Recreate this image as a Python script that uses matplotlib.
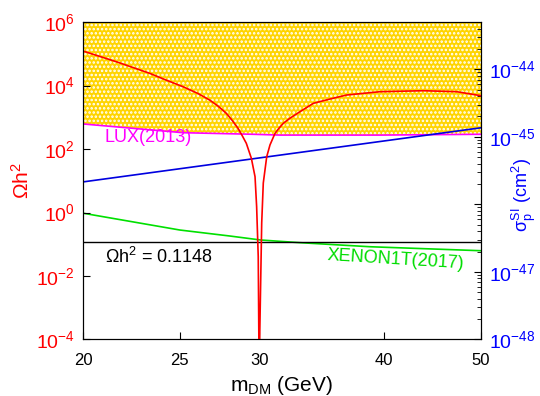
import matplotlib
matplotlib.use("Agg")
import matplotlib.pyplot as plt
from matplotlib.ticker import FixedLocator, FuncFormatter, LogLocator, NullLocator
import numpy as np

plt.rcParams['font.family'] = ['Liberation Sans', 'DejaVu Sans']
plt.rcParams['mathtext.fontset'] = 'custom'
plt.rcParams['mathtext.rm'] = 'Liberation Sans'
plt.rcParams['mathtext.it'] = 'Liberation Sans'
plt.rcParams['mathtext.bf'] = 'Liberation Sans'
plt.rcParams['hatch.linewidth'] = 1.2

# relic density vs DM mass (left axis)
m_dm = [20.0, 21.59, 23.32, 24.21, 25.18, 26.06, 26.77, 27.29, 27.82, 28.18,
        28.58, 28.87, 29.13, 29.47, 29.72, 29.83, 29.94, 30.0, 30.18, 30.29,
        30.53, 30.76, 31.12, 31.40, 31.72, 32.20, 32.96, 33.99, 35.32, 36.70,
        39.63, 43.78, 47.28, 50.0]
omega_h2 = [1.22e5, 5.62e4, 2.42e4, 1.49e4, 9.16e3, 5.60e3, 3.49e3, 2.26e3, 1.33e3, 818,
            449, 256, 151, 50.9, 13.4, 1.52, 0.0406, 1e-5, 0.467, 8.49,
            57.1, 134, 312, 449, 646, 927, 1496, 2748, 3758, 5023,
            6383, 6855, 6383, 4775]
omega_planck = 0.1148

# SI cross sections (right axis)
m_theory = [20.0, 50.0]
sigma_theory = [2.15e-46, 1.36e-45]

m_lux = [20.0, 25.18, 29.58, 31.48, 39.63, 50.0]
sigma_lux = [1.55e-45, 1.15e-45, 1.09e-45, 1.06e-45, 1.06e-45, 1.09e-45]

m_xenon = [20.0, 25.0, 28.05, 30.1, 32.96, 38.72, 50.0]
sigma_xenon = [7.4e-47, 4.17e-47, 3.4e-47, 2.97e-47, 2.71e-47, 2.36e-47, 2.06e-47]

xticks = [20, 25, 30, 40, 50]

fig = plt.figure(figsize=(5.4, 3.96), dpi=100)
ax1 = fig.add_axes([0.1537, 0.1427, 0.737, 0.8017])
ax2 = ax1.twinx()

# excluded region above LUX
ax2.fill_between(m_lux, sigma_lux, 5e-44, facecolor='#FFD400', edgecolor='white',
                 hatch='....', linewidth=0)
ax2.plot(m_lux, sigma_lux, color='#FF00FF', lw=1.2)
ax2.plot(m_theory, sigma_theory, color='#0000E0', lw=1.2)
ax2.plot(m_xenon, sigma_xenon, color='#00E000', lw=1.2)

ax1.set_zorder(ax2.get_zorder() + 1)
ax1.patch.set_visible(False)
ax1.axhline(omega_planck, color='black', lw=1.0)
ax1.plot(m_dm, omega_h2, color='#FF0000', lw=1.2)

ax1.set_xscale('log')
ax1.set_yscale('log')
ax2.set_yscale('log')
ax1.set_xlim(20, 50)
ax1.set_ylim(1e-4, 1e6)
ax2.set_ylim(1e-48, 5e-44)

ax1.xaxis.set_major_locator(FixedLocator(xticks))
ax1.xaxis.set_minor_locator(NullLocator())
ax1.xaxis.set_major_formatter(FuncFormatter(lambda v, p: '%d' % v))
ax1.yaxis.set_major_locator(FixedLocator([1e-4, 1e-2, 1e0, 1e2, 1e4, 1e6]))
ax1.yaxis.set_minor_locator(NullLocator())
ax1.yaxis.set_major_formatter(FuncFormatter(lambda v, p: r'$\mathregular{10^{%d}}$' % round(np.log10(v))))

ax2.yaxis.set_major_locator(FixedLocator([1e-48, 1e-47, 1e-46, 1e-45, 1e-44]))
ax2.yaxis.set_minor_locator(LogLocator(base=10, subs=np.arange(2, 10), numticks=20))
def right_fmt(v, p):
    e = round(np.log10(v))
    if e == -46:
        return ''
    return r'$\mathregular{10^{%d}}$' % e
ax2.yaxis.set_major_formatter(FuncFormatter(right_fmt))

ax1.tick_params(axis='x', direction='in', length=5, labelsize=12, pad=10, top=False)
ax1.tick_params(axis='y', direction='in', length=5, labelsize=14, labelcolor='#FF0000', pad=6)
ax2.tick_params(axis='y', which='major', direction='in', length=5, labelsize=14, labelcolor='#0000FF', pad=6)
ax2.tick_params(axis='y', which='minor', direction='in', length=3)

ax1.set_xlabel(r'm$_{DM}$ (GeV)', fontsize=15)
ax1.set_ylabel(r'$\Omega$h$^2$', fontsize=15, color='#FF0000', labelpad=2)
ax2.set_ylabel(r'$\sigma_p^{SI}$ (cm$^2$)', fontsize=13, color='#0000FF')
ax2.yaxis.set_label_coords(1.072, 0.455)

ax1.text(0.055, 0.635, 'LUX(2013)', transform=ax1.transAxes, color='#FF00FF',
         fontsize=13, ha='left', va='center')
ax1.text(0.055, 0.26, r'$\Omega$h$^2$ = 0.1148', transform=ax1.transAxes,
         color='black', fontsize=13, ha='left', va='center')
ax1.text(0.613, 0.265, 'XENON1T(2017)', transform=ax1.transAxes, color='#00DD00',
         fontsize=13, ha='left', va='center', rotation=-3.5, rotation_mode='anchor')

fig.savefig('out.png', dpi=100)
